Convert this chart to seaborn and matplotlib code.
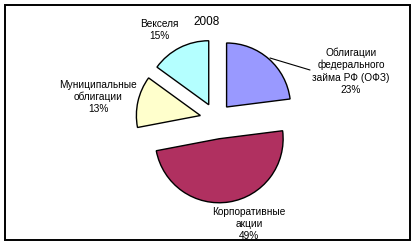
import matplotlib
matplotlib.use("Agg")
import matplotlib.pyplot as plt
import seaborn as sns
from matplotlib.patches import Rectangle

# Data
title = "2008"
categories = ["Облигации\nфедерального\nзайма РФ (ОФЗ)", "Корпоративные\nакции",
              "Муниципальные\nоблигации", "Векселя"]
values = [23, 49, 13, 15]
colors = ["#9999FF", "#B03060", "#FFFFCC", "#B4FFFF"]

sns.set_theme(style="white")
plt.rcParams['font.family'] = ['Liberation Sans', 'DejaVu Sans']

W, H = 417, 247
fig = plt.figure(figsize=(W / 100, H / 100), dpi=100)
ax = fig.add_axes([0, 0, 1, 1])

R = 64
cx, cy = 216, H - 119
wedges, _ = ax.pie(values, colors=colors, startangle=90, counterclock=False,
                   explode=[16, 20, 16, 16], radius=R, center=(cx, cy),
                   wedgeprops=dict(edgecolor="black", linewidth=1.0), frame=True)
ax.set_xlim(0, W)
ax.set_ylim(0, H)
ax.axis("off")
ax.set_aspect("equal")

fs = 7.3
ls = 1.27
pct = [f"{v}%" for v in values]
label_pos = [(351, 71), (249, 224), (98, 97), (159, 30)]
for cat, p, (x, y) in zip(categories, pct, label_pos):
    ax.text(x, H - y, f"{cat}\n{p}", ha="center", va="center", fontsize=fs,
            linespacing=ls, color="black", multialignment="center")

# leader line for OFZ
ax.plot([270, 310], [H - 58, H - 70], color="black", lw=0.8)

ax.text(207, H - 22, title, ha="center", va="center", fontsize=8.5, color="black")

# frame border
ax.add_patch(Rectangle((5.5, H - 240), 405, 235, fill=False, edgecolor="black",
                       lw=1.4, clip_on=False))

fig.savefig("out.png", dpi=100, facecolor="white")
